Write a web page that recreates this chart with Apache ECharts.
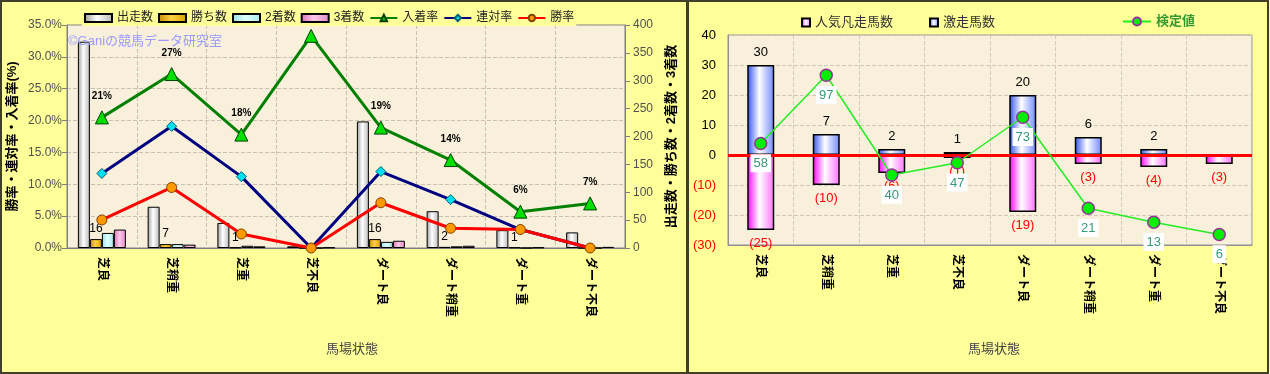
<!DOCTYPE html>
<html><head><meta charset="utf-8">
<script src="https://cdn.jsdelivr.net/npm/echarts@6/dist/echarts.min.js"></script>
<style>html,body{margin:0;padding:0;background:#ffff99;}#c{width:1270px;height:374px;}</style>
</head><body><div id="c"></div>
<script>
const categories = ['芝良','芝稍重','芝重','芝不良','ダート良','ダート稍重','ダート重','ダート不良'];
const runners = [370, 74, 45, 3, 227, 66, 32, 28];
const wins = [16, 7, 1, 0, 16, 2, 1, 0];
const seconds = [27, 7, 4, 0, 11, 3, 0, 0];
const thirds = [33, 6, 3, 1, 13, 4, 1, 2];
const placeRate = [20.5, 27.3, 17.8, 33.3, 18.9, 13.8, 5.7, 7.0];
const quinellaRate = [11.7, 19.1, 11.2, 0, 12.0, 7.6, 2.9, 0];
const winRate = [4.4, 9.5, 2.2, 0, 7.1, 3.1, 2.9, 0];
const leftTicksPct = [0, 5, 10, 15, 20, 25, 30, 35];
const rightTicksCount = [0, 50, 100, 150, 200, 250, 300, 350, 400];

const surgeCount = [30, 7, 2, 1, 20, 6, 2, 0];
const flopCount = [-25, -10, -6, -1, -19, -3, -4, -3];
const testValue = [58, 97, 40, 47, 73, 21, 13, 6];
const rightTicks = [-30, -20, -10, 0, 10, 20, 30, 40];

const FONT = "'Liberation Sans','Noto Sans CJK JP',sans-serif";
function hgrad(a, b, c) {
  return new echarts.graphic.LinearGradient(0, 0, 1, 0, [
    {offset: 0, color: a}, {offset: 0.45, color: b}, {offset: 1, color: c}]);
}
const plotBg = '#f8f0db';
const catAxisLabel = {rotate: -90, interval: 0, fontSize: 12, fontWeight: 'bold', color: '#000', margin: 9, fontFamily: FONT};

const chart = echarts.init(document.getElementById('c'), null, {renderer: 'canvas'});
const option = {
  animation: false,
  textStyle: {fontFamily: FONT},
  graphic: [
    {type: 'rect', z: -10, shape: {x: 1, y: 1, width: 686, height: 372}, style: {fill: '#ffff99', stroke: '#40402a', lineWidth: 2}},
    {type: 'rect', z: -10, shape: {x: 688, y: 1, width: 580, height: 372}, style: {fill: '#ffff99', stroke: '#40402a', lineWidth: 2}},
    {type: 'text', z: 5, left: 68, top: 35, style: {text: '©Ganiの競馬データ研究室', fill: '#9a9aff', font: "13px " + FONT}},
    {type: 'text', z: 5, left: 326, top: 343, style: {text: '馬場状態', fill: '#444', font: "13px " + FONT}},
    {type: 'text', z: 5, left: 968, top: 343, style: {text: '馬場状態', fill: '#444', font: "13px " + FONT}}
  ],
  legend: [
    {left: 82, top: 10, itemWidth: 27, itemHeight: 8, itemGap: 5, z: 20, backgroundColor: '#ffff99', padding: [2, 2],
     textStyle: {fontSize: 12, color: '#222', fontFamily: FONT},
     data: [{name: '出走数', icon: 'rect'}, {name: '勝ち数', icon: 'rect'}, {name: '2着数', icon: 'rect'}, {name: '3着数', icon: 'rect'},
            '入着率', '連対率', '勝率']},
    {left: 796, top: 11, itemWidth: 8, itemHeight: 8, itemGap: 36,
     textStyle: {fontSize: 13, color: '#333', fontFamily: FONT},
     data: [{name: '人気凡走馬数', icon: 'rect'}, {name: '激走馬数', icon: 'rect'}]},
    {left: 1117, top: 10, itemWidth: 28, itemHeight: 10,
     textStyle: {fontSize: 13, color: '#339933', fontWeight: 'bold', fontFamily: FONT},
     data: ['検定値']}
  ],
  grid: [
    {left: 67, top: 25, width: 558, height: 223, show: true, backgroundColor: plotBg, borderColor: '#808080', borderWidth: 1},
    {left: 728, top: 35, width: 524, height: 210, show: true, backgroundColor: plotBg, borderColor: '#909090', borderWidth: 1}
  ],
  xAxis: [
    {type: 'category', gridIndex: 0, data: categories, axisTick: {show: false},
     axisLine: {lineStyle: {color: '#808080'}}, axisLabel: catAxisLabel,
     splitLine: {show: true, interval: 0, lineStyle: {color: '#c8c0b0', type: 'dashed'}}},
    {type: 'category', gridIndex: 1, data: categories, axisTick: {show: false},
     axisLine: {onZero: false, lineStyle: {color: '#909090'}}, axisLabel: catAxisLabel,
     splitLine: {show: true, interval: 0, lineStyle: {color: '#d0c8b8', type: 'dashed'}}}
  ],
  yAxis: [
    {type: 'value', gridIndex: 0, min: leftTicksPct[0], max: leftTicksPct[leftTicksPct.length - 1], interval: 5,
     name: '勝率・連対率・入着率(%)', nameLocation: 'middle', nameRotate: 90, nameGap: 48,
     nameTextStyle: {fontSize: 13, fontWeight: 'bold', color: '#000', fontFamily: FONT},
     axisLine: {show: true, lineStyle: {color: '#808080'}}, axisTick: {show: true, lineStyle: {color: '#808080'}},
     axisLabel: {fontSize: 12, color: '#505050', formatter: v => v.toFixed(1) + '%', margin: 5},
     splitLine: {show: true, lineStyle: {color: '#c8c0b0', type: 'dashed'}}},
    {type: 'value', gridIndex: 0, position: 'right', min: rightTicksCount[0], max: rightTicksCount[rightTicksCount.length - 1], interval: 50,
     name: '出走数・勝ち数・2着数・3着数', nameLocation: 'middle', nameRotate: 90, nameGap: 40,
     nameTextStyle: {fontSize: 13, fontWeight: 'bold', color: '#000', fontFamily: FONT},
     axisLine: {show: true, lineStyle: {color: '#808080'}}, axisTick: {show: true, lineStyle: {color: '#808080'}},
     axisLabel: {fontSize: 12, color: '#505050', margin: 8}, splitLine: {show: false}},
    {type: 'value', gridIndex: 1, min: rightTicks[0], max: rightTicks[rightTicks.length - 1], interval: 10,
     axisLine: {show: true, lineStyle: {color: '#909090'}}, axisTick: {show: false},
     axisLabel: {fontSize: 13, margin: 12, formatter: v => v < 0 ? '{n|(' + (-v) + ')}' : '{p|' + v + '}',
       rich: {n: {color: '#ff0000', fontSize: 13}, p: {color: '#000', fontSize: 13}}},
     splitLine: {show: true, lineStyle: {color: '#d0c8b8', type: 'dashed'}}},
    {type: 'value', gridIndex: 1, min: 0, max: 120, show: false, splitLine: {show: false}}
  ],
  series: [
    {name: '出走数', type: 'bar', xAxisIndex: 0, yAxisIndex: 1, data: runners, barWidth: 12, barGap: '0%',
     itemStyle: {color: hgrad('#9a9a9a', '#ffffff', '#b8b8b8'), borderColor: '#000', borderWidth: 1}},
    {name: '勝ち数', type: 'bar', xAxisIndex: 0, yAxisIndex: 1, data: wins, barWidth: 12, barGap: '0%',
     itemStyle: {color: hgrad('#c08a00', '#ffd040', '#d8a000'), borderColor: '#000', borderWidth: 1},
     label: {show: true, position: 'top', distance: 4, fontSize: 12, color: '#000', formatter: p => p.value ? p.value : ''}},
    {name: '2着数', type: 'bar', xAxisIndex: 0, yAxisIndex: 1, data: seconds, barWidth: 12, barGap: '0%',
     itemStyle: {color: hgrad('#90dde6', '#e0ffff', '#a8e8ee'), borderColor: '#000', borderWidth: 1}},
    {name: '3着数', type: 'bar', xAxisIndex: 0, yAxisIndex: 1, data: thirds, barWidth: 12, barGap: '0%',
     itemStyle: {color: hgrad('#d870b8', '#ffc8e8', '#e088c8'), borderColor: '#000', borderWidth: 1}},
    {name: '入着率', type: 'line', xAxisIndex: 0, yAxisIndex: 0, data: placeRate, z: 5,
     lineStyle: {color: '#008000', width: 3}, symbol: 'triangle', symbolSize: 13,
     itemStyle: {color: '#00e000', borderColor: '#004000', borderWidth: 1},
     label: {show: true, position: 'top', distance: 9, fontSize: 10, fontWeight: 'bold', color: '#000',
       formatter: p => Math.round(p.value) + '%'}},
    {name: '連対率', type: 'line', xAxisIndex: 0, yAxisIndex: 0, data: quinellaRate, z: 5,
     lineStyle: {color: '#000080', width: 3}, symbol: 'diamond', symbolSize: 10,
     itemStyle: {color: '#00e0f0', borderColor: '#006070', borderWidth: 1}},
    {name: '勝率', type: 'line', xAxisIndex: 0, yAxisIndex: 0, data: winRate, z: 6,
     lineStyle: {color: '#ff0000', width: 3}, symbol: 'circle', symbolSize: 10,
     itemStyle: {color: '#ff9900', borderColor: '#804000', borderWidth: 1}},

    {name: '激走馬数', type: 'bar', xAxisIndex: 1, yAxisIndex: 2, data: surgeCount, stack: 'r', barWidth: 27,
     itemStyle: {color: hgrad('#3050f0', '#ffffff', '#7088ff'), borderColor: '#000', borderWidth: 1.5},
     label: {show: true, position: 'top', distance: 6, fontSize: 13, color: '#000', formatter: p => p.value ? p.value : ''},
     markLine: {silent: true, symbol: 'none', label: {show: false}, lineStyle: {color: '#ff0000', width: 3, type: 'solid'},
       data: [{yAxis: 0}], z: 4}},
    {name: '人気凡走馬数', type: 'bar', xAxisIndex: 1, yAxisIndex: 2, data: flopCount, stack: 'r', barWidth: 27,
     itemStyle: {color: hgrad('#ff00ff', '#ffffff', '#ff70ff'), borderColor: '#000', borderWidth: 1.5},
     label: {show: true, position: 'bottom', distance: 7, fontSize: 13, color: '#ff0000', formatter: p => '(' + (-p.value) + ')'}},
    {name: '検定値', type: 'line', xAxisIndex: 1, yAxisIndex: 3, data: testValue, z: 6,
     lineStyle: {color: '#22ee22', width: 1.5}, symbol: 'circle', symbolSize: 12,
     itemStyle: {color: '#00ee00', borderColor: '#993399', borderWidth: 1.5},
     label: {show: true, position: 'bottom', distance: 4, fontSize: 13, color: '#339977', backgroundColor: '#ffffff',
       padding: [3, 3, 2, 3]}}
  ]
};
chart.setOption(option);
</script></body></html>
